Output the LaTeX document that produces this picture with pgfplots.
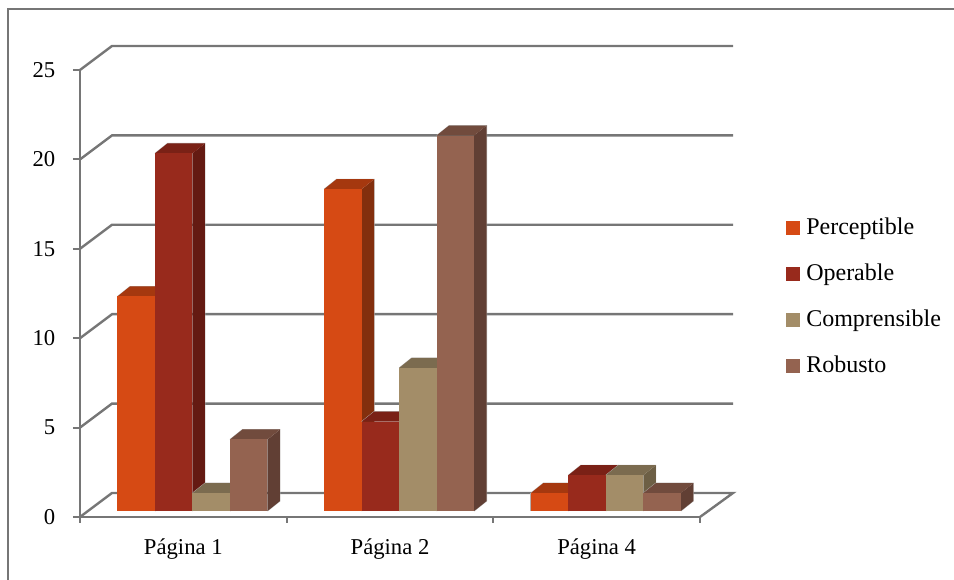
\documentclass[border=0pt]{standalone}
\usepackage{pgfplots}
\usepackage{pgfplotstable}
\usepackage{fontspec}
\setmainfont{Liberation Serif}
\pgfplotsset{compat=1.18}

% 1 px of the drawing grid
\newlength{\px}\setlength{\px}{0.75pt}

% Series colours: front, side and top faces
\definecolor{percF}{HTML}{D64A14}\definecolor{percS}{HTML}{832F0D}\definecolor{percT}{HTML}{A5380F}
\definecolor{operF}{HTML}{982A1C}\definecolor{operS}{HTML}{641A12}\definecolor{operT}{HTML}{7A2116}
\definecolor{compF}{HTML}{A38D68}\definecolor{compS}{HTML}{6D5F45}\definecolor{compT}{HTML}{7B6B4F}
\definecolor{robuF}{HTML}{946350}\definecolor{robuS}{HTML}{613F34}\definecolor{robuT}{HTML}{714B3D}
\definecolor{wallgray}{HTML}{767676}
\definecolor{baredge}{HTML}{B4B0AE}

% Bar values, one row per page
\pgfplotstableread{
page Perceptible Operable Comprensible Robusto
0    12          20       1            4
1    18          5        8            21
2    1           2        2            1
}\barvalues

% Depth and geometry in axis units: 206.67 px per category, 17.88 px per value unit
\def\ux{206.67}\def\uy{17.88}

% Box for one bar: #1 page, #2 slot in the group, #3 value, #4 colour stem
\newcommand{\boxbar}[4]{%
  \pgfmathsetmacro{\xa}{#1+(37.5+37.5*#2)/\ux}%
  \pgfmathsetmacro{\xb}{\xa+37.5/\ux}%
  \pgfmathsetmacro{\dx}{12.5/\ux}%
  \pgfmathsetmacro{\dy}{10/\uy}%
  \pgfmathsetmacro{\ya}{6/\uy}%
  \pgfmathsetmacro{\yb}{\ya+#3}%
  \pgfmathsetmacro{\xc}{\xb+\dx}%
  \pgfmathsetmacro{\xd}{\xa+\dx}%
  \pgfmathsetmacro{\yc}{\yb+\dy}%
  \pgfmathsetmacro{\ye}{\ya+\dy}%
  \edef\temp{%
    \noexpand\addplot[baredge,line width=0.8\px,forget plot] coordinates {(\xa,\yb)(\xd,\yc)(\xc,\yc)(\xc,\ye)(\xb,\ya)};
    \ifnum#2=0 \noexpand\addplot[baredge,line width=0.8\px,forget plot] coordinates {(\xa,\ya)(\xa,\yb)};\fi
    \noexpand\addplot[fill=#4S,draw=none,forget plot] coordinates {(\xb,\ya)(\xc,\ye)(\xc,\yc)(\xb,\yb)} --cycle;
    \noexpand\addplot[fill=#4T,draw=none,forget plot] coordinates {(\xa,\yb)(\xd,\yc)(\xc,\yc)(\xb,\yb)} --cycle;
    \noexpand\addplot[fill=#4F,draw=none,forget plot] coordinates {(\xa,\ya)(\xa,\yb)(\xb,\yb)(\xb,\ya)} --cycle;
  }\temp
}

\newcommand{\pagebars}[1]{%
  \pgfplotstablegetelem{#1}{Perceptible}\of\barvalues\boxbar{#1}{0}{\pgfplotsretval}{perc}%
  \pgfplotstablegetelem{#1}{Operable}\of\barvalues\boxbar{#1}{1}{\pgfplotsretval}{oper}%
  \pgfplotstablegetelem{#1}{Comprensible}\of\barvalues\boxbar{#1}{2}{\pgfplotsretval}{comp}%
  \pgfplotstablegetelem{#1}{Robusto}\of\barvalues\boxbar{#1}{3}{\pgfplotsretval}{robu}%
}

\begin{document}
\begin{tikzpicture}[x=\px,y=\px]
  % page extent (pixel grid, y up, origin at the lower left)
  \path[use as bounding box] (0,0) rectangle (954,580);
  \draw[wallgray,line width=2.4\px] (8,-5) -- (8,571) -- (960,571);

  \begin{axis}[
    at={(80\px,63\px)},
    anchor=south west,
    scale only axis,
    width=620\px,height=447\px,
    xmin=0,xmax=3,ymin=0,ymax=25,
    clip=false,
    axis x line=bottom,axis y line=left,
    axis line style={wallgray,line width=2.6\px,-},
    xtick={0.5,1.5,2.5},
    xticklabels={P\'agina 1,P\'agina 2,P\'agina 4},
    minor xtick={0,1,2,3},
    ytick={0,5,10,15,20,25},
    tick align=outside,
    major tick length=7\px,
    minor tick length=6\px,
    x tick style={draw=none},
    minor x tick style={draw=wallgray,line width=2\px},
    y tick style={wallgray,line width=2\px},
    /pgf/number format/assume math mode=true,
    xticklabel style={font=\fontsize{17}{19}\selectfont,text=black,yshift=-10\px},
    yticklabel style={font=\fontsize{17}{19}\selectfont,text=black,xshift=-13\px},
  ]
    % Wall grid and floor: each line runs from the front edge to the back plane
    \addplot[wallgray,line width=2.4\px,forget plot] coordinates {(0,25)(0.1548,26.342)(3.1597,26.342)};
    \addplot[wallgray,line width=2.4\px,forget plot] coordinates {(0,20)(0.1548,21.342)(3.1597,21.342)};
    \addplot[wallgray,line width=2.4\px,forget plot] coordinates {(0,15)(0.1548,16.342)(3.1597,16.342)};
    \addplot[wallgray,line width=2.4\px,forget plot] coordinates {(0,10)(0.1548,11.342)(3.1597,11.342)};
    \addplot[wallgray,line width=2.4\px,forget plot] coordinates {(0,5)(0.1548,6.342)(3.1597,6.342)};
    \addplot[wallgray,line width=2.4\px,forget plot] coordinates {(0,0)(0.1548,1.342)(3.1597,1.342)(3,0)};

    \pagebars{0}
    \pagebars{1}
    \pagebars{2}
  \end{axis}

  % Legend
  \foreach \yy/\nm/\cc in {352/Perceptible/percF,306/Operable/operF,260/Comprensible/compF,214/Robusto/robuF}{
    \fill[\cc] (786,\yy-7) rectangle (800,\yy+7);
    \node[anchor=base west,inner sep=0pt,font=\fontsize{18}{20}\selectfont] at (806,\yy-7) {\nm};
  }
\end{tikzpicture}
\end{document}
